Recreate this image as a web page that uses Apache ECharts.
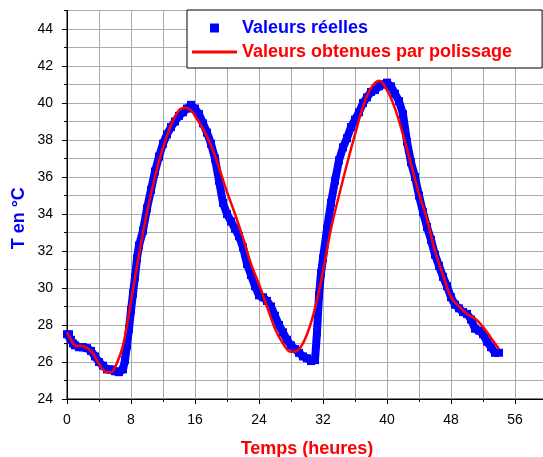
<!DOCTYPE html>
<html>
<head>
<meta charset="utf-8">
<script src="https://cdn.jsdelivr.net/npm/echarts@6/dist/echarts.min.js"></script>
<style>html,body{margin:0;padding:0;background:#fff}#c{width:543px;height:457px}</style>
</head>
<body>
<div id="c"></div>
<script>
// Measured temperatures (hours, °C)
const realTime = [0,0.25,0.5,0.75,1,1.5,2,2.5,3,3.5,4,4.5,5,5.5,6,6.5,7,7.25,7.5,7.75,8,8.25,8.5,8.75,9,9.5,10,10.5,11,11.5,12,12.5,13,13.5,14,14.5,15,15.5,16,16.5,17,17.5,18,18.5,19,19.5,20,20.5,21,21.5,22,22.5,23,23.5,24,24.5,25,25.5,26,26.5,27,27.5,28,28.5,29,29.5,30,30.5,31,31.25,31.5,31.75,32,32.5,33,33.5,34,34.5,35,35.5,36,36.5,37,37.5,38,38.5,39,39.5,40,40.5,41,41.5,42,42.5,43,43.5,44,44.5,45,45.5,46,46.5,47,47.5,48,48.5,49,49.5,50,50.5,51,51.5,52,52.5,53,53.5,54];
const realTemp = [27.5,27.5,27.2,27.0,26.9,26.8,26.8,26.75,26.6,26.3,26.0,25.8,25.6,25.6,25.5,25.45,25.6,26.1,26.9,27.8,28.8,29.7,30.6,31.6,32.3,33.1,34.3,35.3,36.3,37.1,37.8,38.3,38.7,39.0,39.3,39.5,39.7,39.9,39.7,39.4,38.9,38.4,37.8,37.0,35.8,34.6,34.0,33.6,33.2,32.8,32.2,31.3,30.7,30.1,29.6,29.5,29.3,29.0,28.5,28.0,27.6,27.2,26.9,26.7,26.5,26.3,26.2,26.05,26.1,27.6,29.6,30.8,31.6,33.2,34.6,35.8,36.9,37.6,38.1,38.7,39.1,39.5,40.0,40.3,40.6,40.7,40.9,41.0,41.1,40.9,40.5,40.1,39.4,37.9,36.8,36.0,35.0,34.1,33.3,32.6,31.8,31.2,30.6,30.1,29.5,29.1,28.9,28.7,28.6,28.3,27.8,27.7,27.5,27.1,26.8,26.5,26.5];

// Smoothed curve (hours, °C)
const smoothTime = [0,0.5,1,2,3,4,5,5.5,6,7,8,9,10,11,12,13,14,14.8,15.5,16,17,18,19,20,21,22,23,24,25,26,27,28,29,30,31,32,33,34,35,36,37,38,39,40,41,42,43,44,45,46,47,48,49,50,51,52,53,54];
const smoothTemp = [27.6,27.2,26.9,26.85,26.6,25.9,25.45,25.45,25.7,26.9,29.3,31.8,34.1,36.0,37.6,38.8,39.6,39.75,39.6,39.3,38.6,37.7,36.5,35.2,34.0,32.7,31.3,30.2,29.0,27.8,27.0,26.55,26.7,27.5,28.9,30.9,33.2,35.0,36.7,38.3,39.8,40.8,41.2,40.7,39.7,38.3,36.7,35.1,33.7,32.0,30.7,29.5,29.0,28.6,28.35,27.9,27.3,26.7];

const xMajorTicks = [0,8,16,24,32,40,48,56];
const yMajorTicks = [24,26,28,30,32,34,36,38,40,42,44];

const seriesNames = ['Valeurs réelles', 'Valeurs obtenues par polissage'];

const realData = realTime.map((t, i) => [t, realTemp[i]]);
const smoothData = smoothTime.map((t, i) => [t, smoothTemp[i]]);

const FONT = 'Liberation Sans, Arial, sans-serif';
const chart = echarts.init(document.getElementById('c'), null, {renderer: 'canvas'});
chart.setOption({
  animation: false,
  backgroundColor: '#fff',
  grid: {left: 67, top: 10.5, right: -4, bottom: 58, outerBoundsMode: 'none', containLabel: false,
         show: true, borderColor: '#000', borderWidth: 1, backgroundColor: 'transparent'},
  legend: {
    orient: 'vertical', left: 187, top: 10,
    padding: [9, 30, 7, 5],
    itemGap: 6, itemWidth: 45, itemHeight: 9,
    backgroundColor: '#fff', borderColor: '#000', borderWidth: 1,
    textStyle: {fontFamily: FONT, fontSize: 18, fontWeight: 'bold'},
    data: [
      {name: seriesNames[0], icon: 'path://M0,0H1V1H0Z', textStyle: {color: '#0000ff'}},
      {name: seriesNames[1], icon: 'path://M0,0H45V3H0Z', textStyle: {color: '#ff0000'}}
    ]
  },
  xAxis: [
    {type: 'value', min: 0, max: 60, interval: 4, position: 'bottom',
     axisLine: {onZero: false, lineStyle: {color: '#000', width: 1}},
     axisTick: {show: true, length: 3, lineStyle: {color: '#000'}},
     axisLabel: {show: false},
     splitLine: {show: true, lineStyle: {color: '#ababab', width: 1}},
     name: 'Temps (heures)', nameLocation: 'middle', nameGap: 41,
     nameTextStyle: {color: '#ff0000', fontFamily: FONT, fontSize: 18, fontWeight: 'bold'}},
    {type: 'value', min: 0, max: 60, interval: 8, position: 'bottom',
     axisLine: {show: false, onZero: false},
     axisTick: {show: true, length: 5, lineStyle: {color: '#000'}, customValues: xMajorTicks},
     axisLabel: {show: true, margin: 14, color: '#000', fontFamily: FONT, fontSize: 14, customValues: xMajorTicks},
     splitLine: {show: false}}
  ],
  yAxis: [
    {type: 'value', min: 24, max: 45, interval: 1, position: 'left',
     axisLine: {onZero: false, lineStyle: {color: '#000', width: 1}},
     axisTick: {show: true, length: 3, lineStyle: {color: '#000'}},
     axisLabel: {show: false},
     splitLine: {show: true, lineStyle: {color: '#ababab', width: 1}},
     name: 'T en °C', nameLocation: 'middle', nameGap: 39,
     nameTextStyle: {color: '#0000ff', fontFamily: FONT, fontSize: 18, fontWeight: 'bold', padding: [0, 27, 0, 0]}},
    {type: 'value', min: 24, max: 45, interval: 2, position: 'left',
     axisLine: {show: false, onZero: false},
     axisTick: {show: true, length: 5, lineStyle: {color: '#000'}, customValues: yMajorTicks},
     axisLabel: {show: true, margin: 14, color: '#000', fontFamily: FONT, fontSize: 14, customValues: yMajorTicks},
     splitLine: {show: false}}
  ],
  series: [
    {name: seriesNames[0], type: 'line', xAxisIndex: 0, yAxisIndex: 0, data: realData,
     symbol: 'rect', symbolSize: 8, showSymbol: true, showAllSymbol: true,
     itemStyle: {color: '#0000ff'}, lineStyle: {color: '#0000ff', width: 8}, z: 2},
    {name: seriesNames[1], type: 'line', xAxisIndex: 0, yAxisIndex: 0, data: smoothData,
     smooth: 0.4, symbol: 'none', showSymbol: false,
     itemStyle: {color: '#ff0000'}, lineStyle: {color: '#ff0000', width: 2.5}, z: 3}
  ]
});
</script>
</body>
</html>
